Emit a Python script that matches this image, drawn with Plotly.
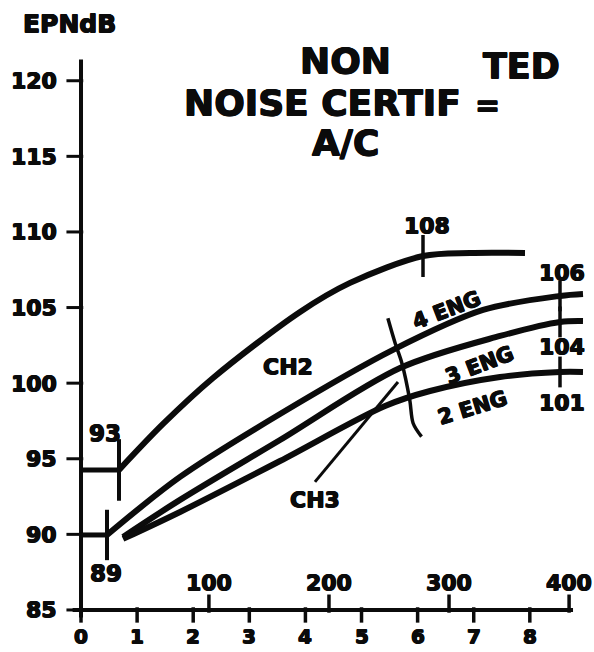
import plotly.graph_objects as go

# ---------------- data ----------------
y_tick_vals = [85, 90, 95, 100, 105, 110, 115, 120]
x_tick_vals = [0, 1, 2, 3, 4, 5, 6, 7, 8]
top_tick_vals = [100, 200, 300, 400]

# CH2 curve (non noise certificated reference)
ch2_x = [0.677, 1.462, 2.353, 3.904, 4.795, 6.096, 6.934, 7.914]
ch2_y = [94.26, 97.30, 100.34, 104.71, 106.63, 108.41, 108.61, 108.61]
ch2_tick_idx = [0, 5]

# 4 / 3 / 2 engine curves
eng4_x = [0.463, 1.765, 3.547, 5.561, 7.166, 8.538, 8.948]
eng4_y = [89.96, 93.80, 97.96, 102.20, 104.84, 105.77, 105.90]
eng3_x = [0.749, 1.765, 3.547, 5.686, 7.469, 8.538, 8.948]
eng3_y = [89.83, 92.28, 96.24, 101.00, 103.12, 104.05, 104.11]
eng2_x = [0.749, 1.765, 3.547, 5.419, 6.221, 7.469, 8.538, 8.948]
eng2_y = [89.70, 91.48, 94.85, 98.49, 99.48, 100.41, 100.74, 100.74]

# CH3 boundary crossing the engine curves
ch3_x = [5.47, 5.60, 5.72, 5.86, 5.92, 6.07]
ch3_y = [104.29, 102.64, 101.32, 98.89, 97.35, 96.46]
ch3_leader_x = [4.17, 5.65]
ch3_leader_y = [93.47, 100.08]

# value labels
start_labels = ["93", "89"]
end_labels = ["108", "106", "104", "101"]

# ---------------- layout constants ----------------
INK = "#0b0b0b"
FONT = "DejaVu Sans"
HEAVY = ("0.5px 0.5px 0 #0b0b0b, -0.5px -0.5px 0 #0b0b0b, "
         "0.5px -0.5px 0 #0b0b0b, -0.5px 0.5px 0 #0b0b0b")
X_RANGE = [-1.444, 9.144]      # whole page width
Y_RANGE = [82.22, 125.34]      # whole page height
X_AXIS_END = 8.77
Y_AXIS_TOP = 121.4
# top scale: value v sits at bottom-scale position 0.14 + 0.0214*v
TOP_OFF, TOP_SCALE = 0.14, 0.0214
X2_RANGE = [(X_RANGE[0] - TOP_OFF) / TOP_SCALE, (X_RANGE[1] - TOP_OFF) / TOP_SCALE]

fig = go.Figure()


def line(x, y, width=6, shape="spline", xaxis="x"):
    fig.add_trace(go.Scatter(x=x, y=y, mode="lines", xaxis=xaxis,
                             line=dict(color=INK, width=width, shape=shape, smoothing=0.9),
                             hoverinfo="skip", showlegend=False))


def ticks(x, y, symbol, size, width=3.5, xaxis="x"):
    fig.add_trace(go.Scatter(x=x, y=y, mode="markers", xaxis=xaxis,
                             marker=dict(symbol=symbol, size=size,
                                         line=dict(color=INK, width=width)),
                             hoverinfo="skip", showlegend=False))


# axes
line([0, 0], [84.5, Y_AXIS_TOP], width=4, shape="linear")
line([-0.15, X_AXIS_END], [85, 85], width=4, shape="linear")
ticks([-0.11] * len(y_tick_vals), y_tick_vals, "line-ew", 12, 3)
ticks(x_tick_vals, [84.67] * len(x_tick_vals), "line-ns", 11, 3.5)
ticks(top_tick_vals, [85.42] * len(top_tick_vals), "line-ns", 13, 3.5, xaxis="x2")

# flat starts
line([0, ch2_x[0]], [ch2_y[0], ch2_y[0]], width=5, shape="linear")
line([0, eng4_x[0]], [eng4_y[0], eng4_y[0]], width=5, shape="linear")

# curves
line(ch2_x, ch2_y)
line(eng4_x, eng4_y)
line(eng3_x, eng3_y)
line(eng2_x, eng2_y)
line(ch3_x, ch3_y, width=3.5)
line(ch3_leader_x, ch3_leader_y, width=3, shape="linear")

# tick marks on curves
ticks([ch2_x[0]], [ch2_y[0]], "line-ns", 44, 4)
ticks([ch2_x[ch2_tick_idx[1]]], [ch2_y[ch2_tick_idx[1]]], "line-ns", 30, 3.5)
ticks([eng4_x[0]], [eng4_y[0]], "line-ns", 36, 4)
ticks([eng4_x[-2], eng3_x[-2], eng2_x[-2]], [eng4_y[-2], eng3_y[-2], eng2_y[-2]],
      "line-ns", 22, 3.5)

ann = []


def text(s, x, y, size=22, xanchor="center", angle=0, xref="x", yref="y"):
    ann.append(dict(text=s, x=x, y=y, xref=xref, yref=yref, showarrow=False,
                    xanchor=xanchor, yanchor="middle", textangle=angle,
                    font=dict(family=FONT, size=size, color=INK, weight="bold",
                              shadow=HEAVY)))


# y tick labels
for v in y_tick_vals:
    text(str(v), -0.40, v, 22, xanchor="right")
# bottom tick labels
for v in x_tick_vals:
    text(str(v), v, 83.3, 20)
# top tick labels
for v in top_tick_vals:
    text(str(v), v, 86.8, 22, xref="x2")

# curve value labels
text(start_labels[0], 0.43, 96.7, 23)
text(start_labels[1], 0.45, 87.45, 23)
text(end_labels[0], ch2_x[ch2_tick_idx[1]] + 0.07, 110.4, 22)
text(end_labels[1], 8.57, 107.35, 22)
text(end_labels[2], 8.57, 102.4, 22)
text(end_labels[3], 8.57, 98.7, 22)

# curve names
text("CH2", 3.69, 101.07, 22)
text("CH3", 4.17, 92.28, 22)
text("4 ENG", 6.52, 104.85, 21, angle=-21)
text("3 ENG", 7.11, 101.2, 21, angle=-21)
text("2 ENG", 6.97, 98.36, 21, angle=-17)

# title block and unit
text("NON", 4.71, 121.31, 36)
text("NOISE CERTIF", 4.31, 118.53, 36)
text("=", 7.24, 118.4, 30)
text("TED", 7.86, 121.0, 35)
text("A/C", 4.71, 115.89, 36)
text("EPNdB", -0.2, 123.8, 25)

fig.update_layout(
    width=594, height=652,
    margin=dict(l=0, r=0, t=0, b=0),
    paper_bgcolor="white", plot_bgcolor="white",
    xaxis=dict(range=X_RANGE, visible=False, fixedrange=True),
    xaxis2=dict(range=X2_RANGE, overlaying="x", visible=False, fixedrange=True),
    yaxis=dict(range=Y_RANGE, visible=False, fixedrange=True),
    annotations=ann,
    showlegend=False,
)

fig.write_html("out.html", config={"displayModeBar": False},
               post_script="document.body.style.margin='0px';document.body.style.overflow='hidden';")
